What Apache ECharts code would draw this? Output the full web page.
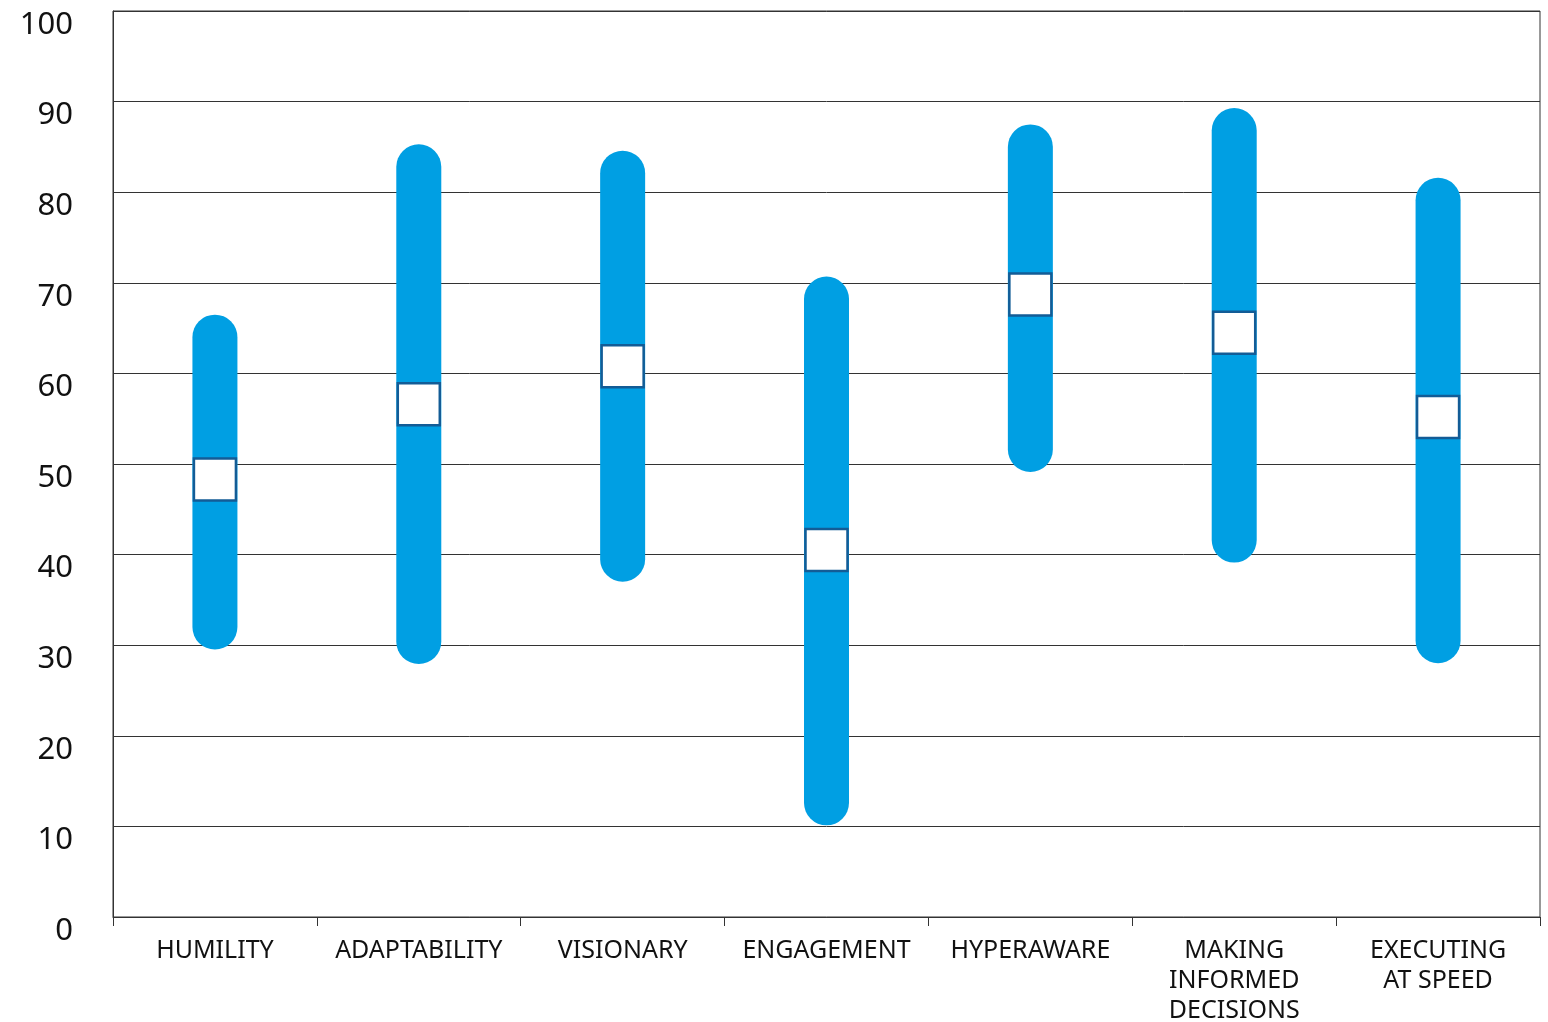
<!DOCTYPE html>
<html>
<head>
<meta charset="utf-8">
<script src="https://cdn.jsdelivr.net/npm/echarts@6/dist/echarts.min.js"></script>
<style>
html,body{margin:0;padding:0;background:#fff;}
#chart{width:1548px;height:1022px;}
</style>
</head>
<body>
<div id="chart"></div>
<script>
// Data
var categories = ['HUMILITY', 'ADAPTABILITY', 'VISIONARY', 'ENGAGEMENT', 'HYPERAWARE', 'MAKING\nINFORMED\nDECISIONS', 'EXECUTING\nAT SPEED'];
var lowValues  = [32.0, 30.4, 39.5, 12.6, 51.6, 41.6, 30.5];
var highValues = [64.0, 82.8, 82.1, 68.2, 85.0, 86.8, 79.1];
var midValues  = [48.3, 56.6, 60.8, 40.5, 68.7, 64.5, 55.2];
var yTicks = [0, 10, 20, 30, 40, 50, 60, 70, 80, 90, 100];

var rangeData = categories.map(function (c, i) { return [i, lowValues[i], highValues[i]]; });
var midData = categories.map(function (c, i) { return [i, midValues[i]]; });

var chart = echarts.init(document.getElementById('chart'), null, {renderer: 'canvas'});
var FONT = 'Noto Sans';
chart.setOption({
  animation: false,
  backgroundColor: '#ffffff',
  grid: {
    left: 113, right: 8, top: 11, bottom: 105,
    containLabel: false, outerBoundsMode: 'none',
    show: true, borderColor: '#333333', borderWidth: 1, backgroundColor: 'transparent'
  },
  xAxis: {
    type: 'category',
    data: categories,
    boundaryGap: true,
    axisLine: {show: true, lineStyle: {color: '#333333', width: 1}},
    axisTick: {show: true, length: 9, interval: 0, lineStyle: {color: '#333333', width: 1}},
    axisLabel: {
      interval: 0, margin: 19, color: '#111111', fontFamily: FONT, fontSize: 25,
      lineHeight: 30, align: 'center', verticalAlign: 'top', hideOverlap: false
    },
    splitLine: {show: false}
  },
  yAxis: {
    type: 'value',
    min: yTicks[0], max: yTicks[yTicks.length - 1], interval: 10,
    axisLine: {show: true, lineStyle: {color: '#333333', width: 1}},
    axisTick: {show: false},
    axisLabel: {
      margin: 40, color: '#111111', fontFamily: FONT, fontSize: 31,
      verticalAlign: 'top', lineHeight: 28, showMinLabel: true, showMaxLabel: true
    },
    splitLine: {show: true, lineStyle: {color: '#333333', width: 1}}
  },
  series: [
    {
      type: 'custom',
      data: rangeData,
      encode: {x: 0, y: [1, 2]},
      renderItem: function (params, api) {
        var x = api.value(0);
        var p1 = api.coord([x, api.value(1)]);
        var p2 = api.coord([x, api.value(2)]);
        return {
          type: 'line',
          shape: {x1: p1[0], y1: p1[1], x2: p2[0], y2: p2[1]},
          style: {stroke: '#009FE3', lineWidth: 45, lineCap: 'round'}
        };
      },
      z: 2
    },
    {
      type: 'scatter',
      data: midData,
      symbol: 'rect',
      symbolSize: 42,
      itemStyle: {color: '#ffffff', borderColor: '#135C96', borderWidth: 2.5, opacity: 1},
      z: 3
    }
  ]
});
</script>
</body>
</html>
